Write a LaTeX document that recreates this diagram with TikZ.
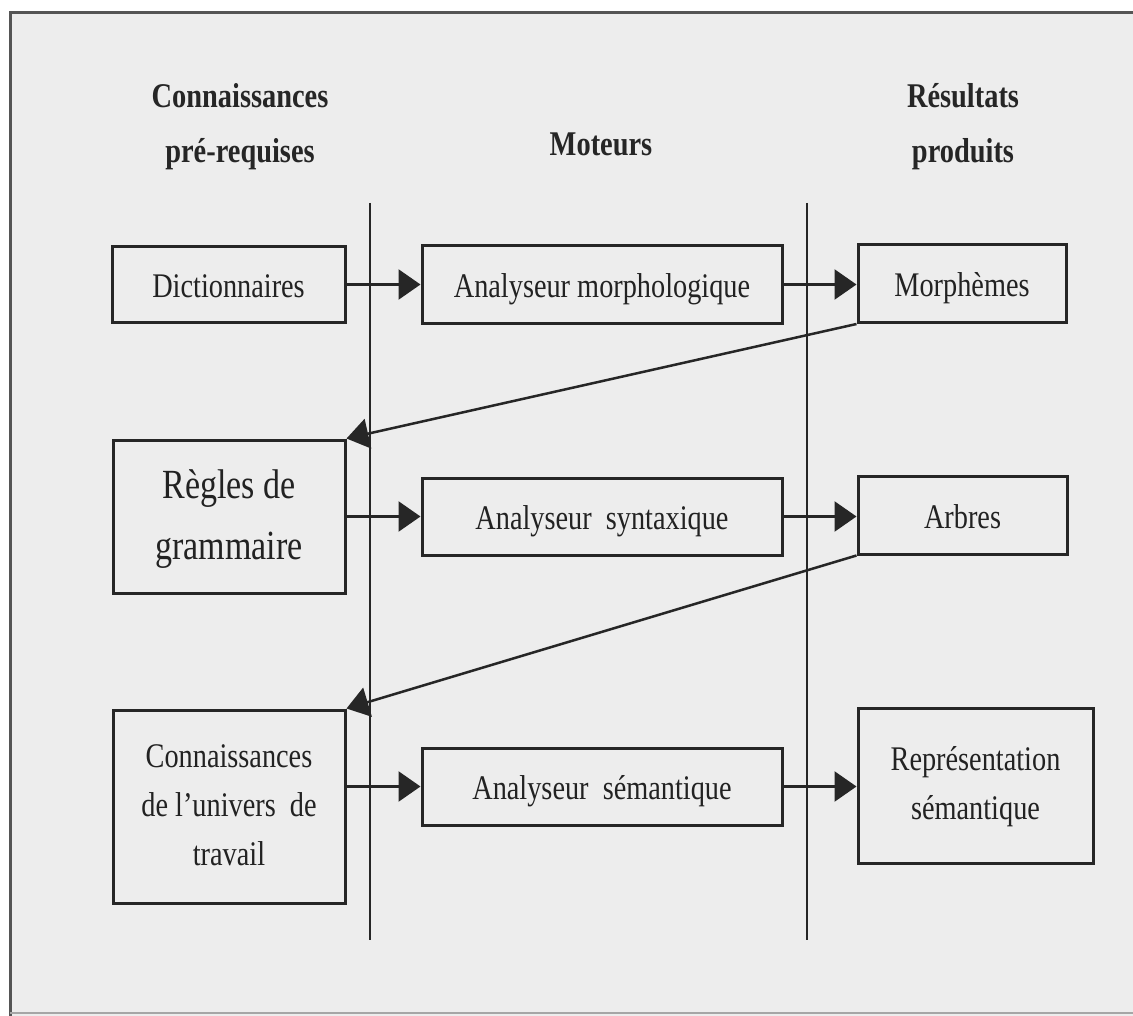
\documentclass[tikz,border=0pt]{standalone}
\usepackage{fontspec}
\setmainfont{Liberation Serif}
\usepackage{graphicx}
\usetikzlibrary{arrows.meta}
\definecolor{ink}{HTML}{262626}
\definecolor{paper}{HTML}{EDEDED}
\definecolor{frameink}{HTML}{555555}
\newcommand\vst[1]{\scalebox{1}[1.22]{\begin{tabular}{@{}c@{}}#1\end{tabular}}}
\newcommand\vsone[1]{\rule{0pt}{26pt}\smash{\scalebox{1}[1.22]{#1}}}
\begin{document}
\begin{tikzpicture}[x=1pt,y=-1pt,
  box/.style={draw=ink, line width=3pt, rectangle, inner sep=0pt, text=ink!90!black,
              font=\fontsize{28.3}{40}\selectfont},
  bigbox/.style={box, font=\fontsize{34}{50}\selectfont},
  conn/.style={draw=ink, line width=2.5pt, -{Triangle[length=22pt,width=30pt]}},
  sepline/.style={draw=ink, line width=2pt},
  head/.style={text=ink, inner sep=0pt, font=\bfseries\fontsize{28.4}{45}\selectfont}]

% canvas and frame
\useasboundingbox (0,0) rectangle (1133,1016);
\fill[white] (0,0) rectangle (1133,1016);
\fill[paper] (10,13) rectangle (1133,1016);
\draw[frameink, line width=3pt] (10,1016) -- (10,13) -- (1133,13);
\draw[gray!70, line width=1.5pt] (10,1013) -- (1133,1013);

% headers
\node[head] (h1) at (240,124) {\vst{Connaissances\\pré-requises}};
\node[head] (h2) at (601,143) {\vsone{Moteurs}};
\node[head] (h3) at (963,124) {\vst{Résultats\\produits}};

% separators
\coordinate (v1t) at (370,203);
\coordinate (v1b) at (370,940);
\coordinate (v2t) at (807,203);
\coordinate (v2b) at (807,940);
\draw[sepline] (v1t) -- (v1b);
\draw[sepline] (v2t) -- (v2b);

% row 1
\node[box, minimum width=233pt, minimum height=76pt] (dict) at (228.5,285) {\vsone{Dictionnaires}};
\node[box, minimum width=360pt, minimum height=78pt] (am) at (602,284.5) {\vsone{Analyseur morphologique}};
\node[box, minimum width=208pt, minimum height=78pt] (morph) at (962,283.5) {\vsone{Morphèmes}};

% row 2
\node[bigbox, minimum width=232pt, minimum height=153pt] (regles) at (229,516.5) {\vst{Règles de\\grammaire}};
\node[box, minimum width=360pt, minimum height=77pt] (as) at (602,516.5) {\vsone{Analyseur\ \ syntaxique}};
\node[box, minimum width=209pt, minimum height=78pt] (arbres) at (962.5,515) {\vsone{Arbres}};

% row 3
\node[box, minimum width=232pt, minimum height=193pt] (conn) at (229,806.5) {\vst{Connaissances\\de l'univers\ \ de\\travail}};
\node[box, minimum width=360pt, minimum height=77pt] (asem) at (602,786.5) {\vsone{Analyseur\ \ sémantique}};
\node[box, minimum width=235pt, minimum height=155pt] (rep) at (975.5,785.5) {\vst{Représentation\\sémantique}};

% connectors
\draw[conn] (dict.east |- am.west) -- (am.west);
\draw[conn] (am.east) -- (morph.west |- am.east);
\draw[conn] (morph.south west) -- (regles.north east);
\draw[conn] (regles.east |- as.west) -- (as.west);
\draw[conn] (as.east) -- (arbres.west |- as.east);
\draw[conn] (arbres.south west) -- (conn.north east);
\draw[conn] (conn.east |- asem.west) -- (asem.west);
\draw[conn] (asem.east) -- (rep.west |- asem.east);
\end{tikzpicture}
\end{document}
